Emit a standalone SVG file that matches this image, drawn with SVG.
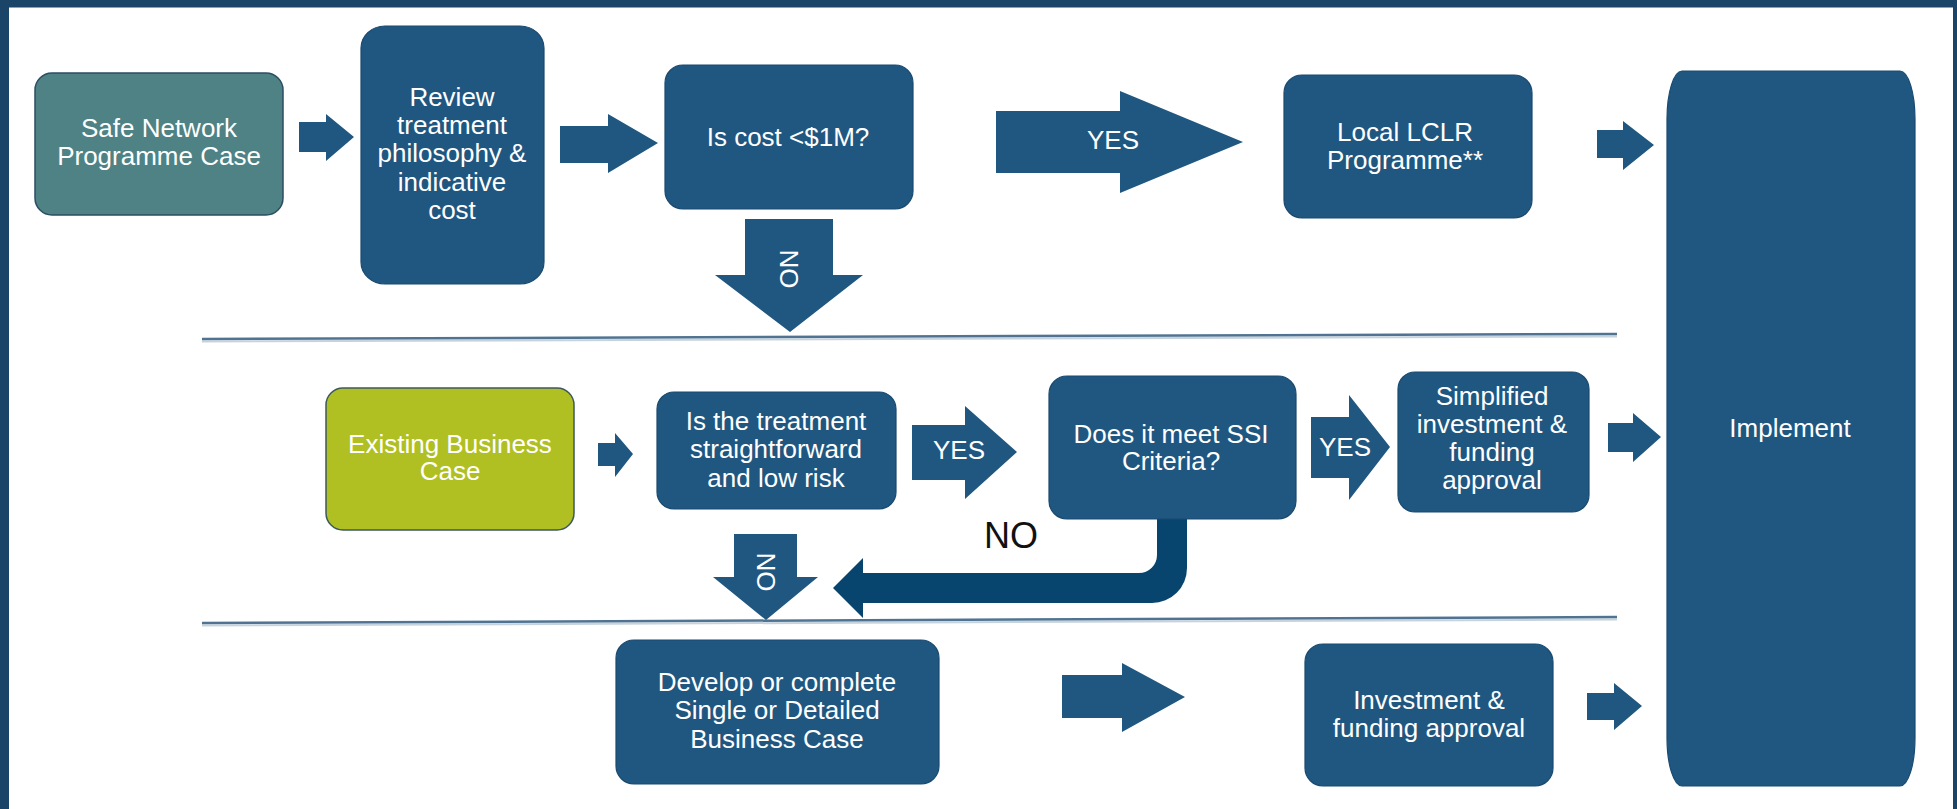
<svg xmlns="http://www.w3.org/2000/svg" width="1957" height="809" viewBox="0 0 1957 809">
<style>
.box{fill:#1f5781;stroke:#1a4a70;stroke-width:1.2}
.arr{fill:#1f5781}
.t{font-family:"Liberation Sans",Arial,sans-serif;font-size:26px;fill:#ffffff;text-anchor:middle}
.sep{stroke:#4f7391;stroke-width:2.5;fill:none}
.seps{stroke:#c5d3de;stroke-width:2;fill:none}
</style>
<rect x="0" y="0" width="1957" height="809" fill="#ffffff"/>
<g id="frame" fill="#1b4568">
<rect x="0" y="0" width="9" height="809"/>
<rect x="0" y="0" width="1957" height="7.5"/>
<rect x="1953" y="0" width="4" height="809"/>
</g>
<g id="separators">
<line class="seps" x1="202" y1="341.5" x2="1617" y2="336.5"/>
<line class="sep" x1="202" y1="339" x2="1617" y2="334"/>
<line class="seps" x1="202" y1="625.5" x2="1617" y2="619.5"/>
<line class="sep" x1="202" y1="623" x2="1617" y2="617"/>
</g>
<g id="connectors">
<polygon class="arr" points="299,122 326,122 326,114 354,137 326,161 326,152 299,152"/>
<polygon class="arr" points="560,126 608,126 608,114 658,143 608,173 608,163 560,163"/>
<polygon class="arr" points="996,111 1120,111 1120,91 1243,142 1120,193 1120,173 996,173"/>
<text class="t" x="1113" y="149">YES</text>
<polygon class="arr" points="745,219 833,219 833,275 863,275 790,332 715,275 745,275"/>
<text class="t" transform="translate(789,269) rotate(90)" x="0" y="0" dominant-baseline="central">NO</text>
<polygon class="arr" points="1597,130 1623,130 1623,121 1654,145 1623,170 1623,158 1597,158"/>
<polygon class="arr" points="598,443 615,443 615,433 633,454 615,477 615,466 598,466"/>
<polygon class="arr" points="912,425 965,425 965,406 1017,452 965,499 965,480 912,480"/>
<text class="t" x="959" y="459">YES</text>
<polygon class="arr" points="1311,417 1349,417 1349,395 1390,447 1349,500 1349,478 1311,478"/>
<text class="t" x="1345" y="456">YES</text>
<polygon class="arr" points="1608,423 1633,423 1633,413 1661,437 1633,462 1633,452 1608,452"/>
<polygon class="arr" points="734,534 797,534 797,577 818,577 766,620 713,577 734,577"/>
<text class="t" transform="translate(766,572) rotate(90)" x="0" y="0" dominant-baseline="central">NO</text>
<path fill="#08456e" d="M1157,502 L1187,502 L1187,568 A35,35 0 0 1 1152,603 L863,603 L863,618 L833,588 L863,558 L863,573 L1139,573 A18,18 0 0 0 1157,555 Z"/>
<text x="1011" y="548" font-family="Liberation Sans, Arial, sans-serif" font-size="36" fill="#111111" text-anchor="middle">NO</text>
<polygon class="arr" points="1062,675 1122,675 1122,663 1185,697 1122,732 1122,718 1062,718"/>
<polygon class="arr" points="1587,693 1614,693 1614,683 1642,706 1614,730 1614,720 1587,720"/>
</g>
<g id="safe-network">
<rect x="35" y="73" width="248" height="142" rx="17" fill="#4e8285" stroke="#2b4e63" stroke-width="1.5"/>
<text class="t" x="159" y="137">Safe Network</text>
<text class="t" x="159" y="165">Programme Case</text>
</g>
<g id="review">
<rect class="box" x="361" y="26" width="183" height="258" rx="24" ry="22"/>
<text class="t" x="452" y="106">Review</text>
<text class="t" x="452" y="134">treatment</text>
<text class="t" x="452" y="162">philosophy &amp;</text>
<text class="t" x="452" y="191">indicative</text>
<text class="t" x="452" y="219">cost</text>
</g>
<g id="cost">
<rect class="box" x="665" y="65" width="248" height="144" rx="18"/>
<text class="t" x="788" y="146">Is cost &lt;$1M?</text>
</g>
<g id="lclr">
<rect class="box" x="1284" y="75" width="248" height="143" rx="18"/>
<text class="t" x="1405" y="141">Local LCLR</text>
<text class="t" x="1405" y="169">Programme**</text>
</g>
<g id="implement">
<path class="box" d="M1682,71 L1900,71 A15,48 0 0 1 1915,119 L1915,738 A15,48 0 0 1 1900,786 L1682,786 A15,48 0 0 1 1667,738 L1667,119 A15,48 0 0 1 1682,71 Z"/>
<text class="t" x="1790" y="437">Implement</text>
</g>
<g id="existing">
<rect x="326" y="388" width="248" height="142" rx="17" fill="#b0bf22" stroke="#3c5a5c" stroke-width="1.5"/>
<text class="t" x="450" y="453">Existing  Business</text>
<text class="t" x="450" y="480">Case</text>
</g>
<g id="treatment">
<rect class="box" x="657" y="392" width="239" height="117" rx="17"/>
<text class="t" x="776" y="430">Is the treatment</text>
<text class="t" x="776" y="458">straightforward</text>
<text class="t" x="776" y="487">and low risk</text>
</g>
<g id="ssi">
<rect class="box" x="1049" y="376" width="247" height="143" rx="18"/>
<text class="t" x="1171" y="443">Does it meet SSI</text>
<text class="t" x="1171" y="470">Criteria?</text>
</g>
<g id="simplified">
<rect class="box" x="1398" y="372" width="191" height="140" rx="17"/>
<text class="t" x="1492" y="405">Simplified</text>
<text class="t" x="1492" y="433">investment &amp;</text>
<text class="t" x="1492" y="461">funding</text>
<text class="t" x="1492" y="489">approval</text>
</g>
<g id="develop">
<rect class="box" x="616" y="640" width="323" height="144" rx="18"/>
<text class="t" x="777" y="691">Develop or complete</text>
<text class="t" x="777" y="719">Single or Detailed</text>
<text class="t" x="777" y="748">Business Case</text>
</g>
<g id="investment">
<rect class="box" x="1305" y="644" width="248" height="142" rx="18"/>
<text class="t" x="1429" y="709">Investment &amp;</text>
<text class="t" x="1429" y="737">funding approval</text>
</g>
</svg>
